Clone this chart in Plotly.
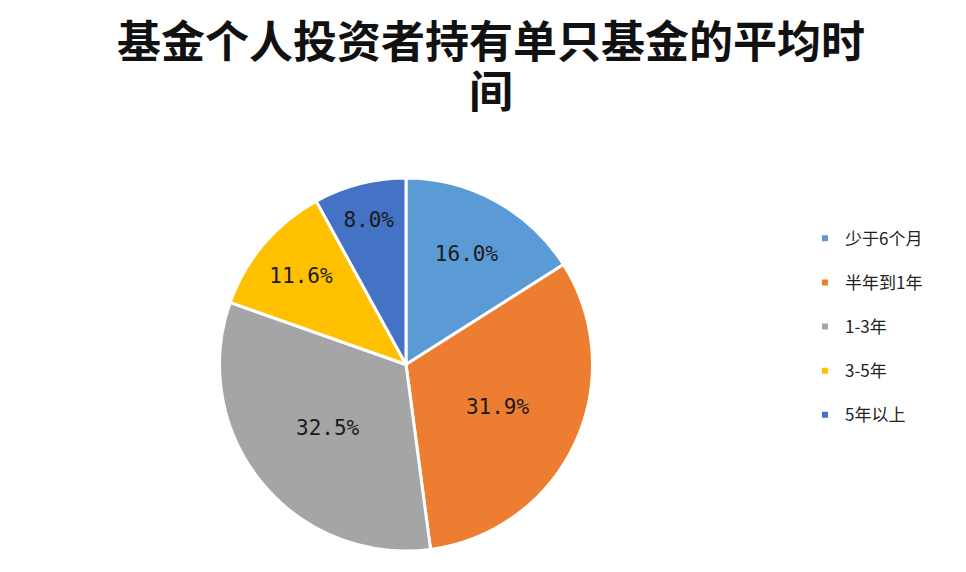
import plotly.graph_objects as go

categories = ["少于6个月", "半年到1年", "1-3年", "3-5年", "5年以上"]
shares = [16.0, 31.9, 32.5, 11.6, 8.0]
colors = ["#5B9BD5", "#ED7D31", "#A5A5A5", "#FFC000", "#4472C4"]
title_lines = ["基金个人投资者持有单只基金的平均时", "间"]

fig = go.Figure()
fig.add_trace(go.Pie(
    labels=categories, values=shares, sort=False, direction="clockwise",
    marker=dict(colors=colors, line=dict(color="white", width=3)),
    texttemplate="%{value:.1f}%", textposition="inside",
    insidetextorientation="horizontal",
    textfont=dict(family="DejaVu Sans Mono", size=21, color="#1a1a1a"),
    domain=dict(x=[0.2184, 0.6056], y=[0.0507, 0.7028]),
    showlegend=False,
))

# small square legend markers, one group per item for spacing
for i, (name, c) in enumerate(zip(categories, colors)):
    fig.add_trace(go.Scatter(
        x=[None], y=[None], mode="markers", name=name,
        marker=dict(symbol="square", size=6, color=c),
        legendgroup=f"g{i}", showlegend=True,
    ))

# title drawn as two lines
for text, ypx in zip(title_lines, [31, 81]):
    fig.add_annotation(
        text=f"<b>{text}</b>", xref="paper", yref="paper",
        x=0.5, y=1 - ypx / 572, xanchor="center", yanchor="middle",
        showarrow=False, borderpad=0,
        font=dict(family="Noto Sans CJK SC", size=44, color="#111"),
    )

fig.update_layout(
    width=966, height=572,
    paper_bgcolor="white", plot_bgcolor="white",
    margin=dict(l=0, r=0, t=0, b=0),
    xaxis=dict(visible=False), yaxis=dict(visible=False),
    legend=dict(x=0.825, y=0.628, xanchor="left", yanchor="top",
                tracegroupgap=19,
                font=dict(family="Noto Sans CJK SC", size=17, color="#222")),
)

fig.write_html("out.html")
